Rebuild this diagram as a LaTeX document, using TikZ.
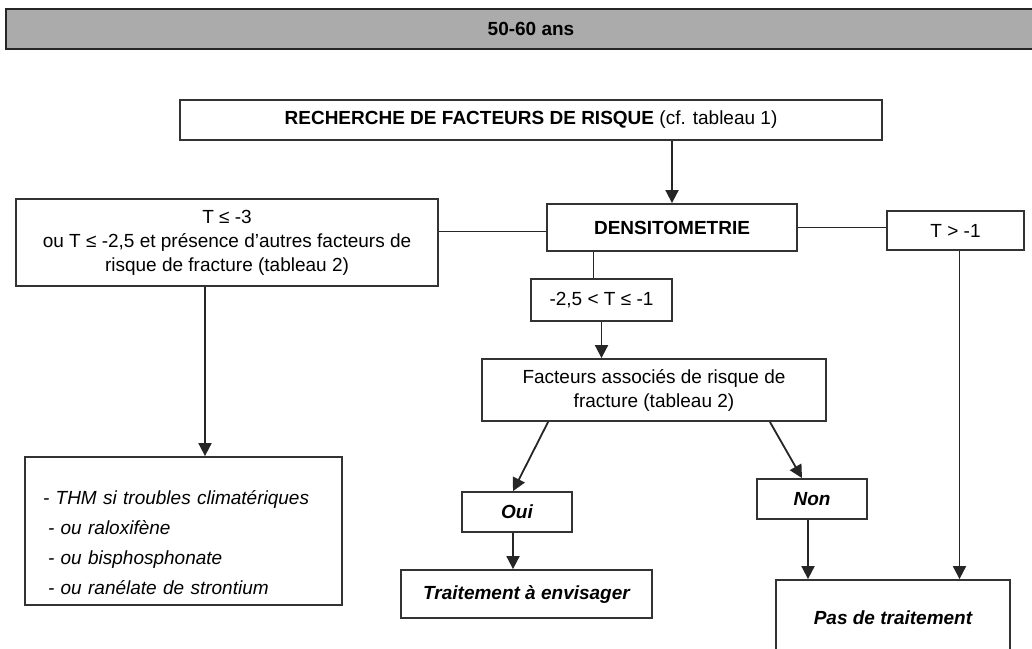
\documentclass[tikz,border=0pt]{standalone}
\usepackage{fontspec}
\setmainfont{Liberation Sans}
\usetikzlibrary{arrows.meta,positioning}
\begin{document}
\begin{tikzpicture}[x=1pt,y=-1pt,
        boite/.style={draw=black!80, line width=1.8pt, fill=white, inner sep=0pt, align=center,
            font=\fontsize{19}{24}\selectfont},
        reponse/.style={boite, font=\fontsize{19}{24}\selectfont\bfseries\itshape},
        fleche/.style={draw=black!85, line width=1.8pt, -{Triangle[width=13pt,length=13pt]}},
        trait/.style={draw=black!85, line width=1.8pt}]
    \useasboundingbox (0,0) rectangle (1032,648);
    \node[boite, fill=black!33, draw=black!85, line width=2.2pt, minimum width=1050, minimum height=40,
        font=\fontsize{19}{23}\selectfont\bfseries] (age) at (531,29) {50-60 ans};
    \node[boite, minimum width=702, minimum height=40] (recherche) at (531,120)
        {\textbf{RECHERCHE DE FACTEURS DE RISQUE} (cf. tableau 1)};
    \node[boite, minimum width=250, minimum height=47, font=\fontsize{19}{23}\selectfont\bfseries] (densito) at (672,227.5) {DENSITOMETRIE};
    \node[boite, minimum width=422, minimum height=87] (gauche) at (227,242.5)
        {T ≤ -3\\ou T ≤ -2,5 et présence d'autres facteurs de\\risque de fracture (tableau 2)};
    \node[boite, minimum width=137, minimum height=39] (tsup) at (955.5,230.5) {T > -1};
    \node[boite, minimum width=141, minimum height=42] (tmid) at (601.5,300) {-2,5 < T ≤ -1};
    \node[boite, minimum width=344, minimum height=62] (facteurs) at (654,390)
        {Facteurs associés de risque de\\fracture (tableau 2)};
    \node[reponse, minimum width=110, minimum height=40] (oui) at (517,512) {Oui};
    \node[reponse, minimum width=110, minimum height=40] (non) at (812,499) {Non};
    \node[reponse, minimum width=251, minimum height=48] (traitement) at (526.5,594) {Traitement à envisager};
    \node[reponse, minimum width=234, minimum height=76] (pas) at (893,618) {Pas de traitement};
    \node[boite, minimum width=317, minimum height=148, text width=281pt, inner xsep=18pt, align=left,
        font=\fontsize{19}{23}\selectfont\itshape] (trt) at (183.5,531)
        {\rule{0pt}{38pt}- THM si troubles climatériques\\[7pt]
         \hspace*{5pt}- ou raloxifène\\[7pt]
         \hspace*{5pt}- ou bisphosphonate\\[7pt]
         \hspace*{5pt}- ou ranélate de strontium};

    \draw[fleche] (recherche.south -| densito.north) -- (densito.north);
    \draw[trait] ([yshift=-4pt]densito.west) -- ([yshift=-4pt]densito.west -| gauche.east);
    \draw[trait] (densito.east) -- (densito.east -| tsup.west);
    \draw[trait] ([xshift=-8pt]tmid.north) -- ([xshift=-8pt]tmid.north |- densito.south);
    \draw[fleche] (tmid.south) -- (tmid.south |- facteurs.north);
    \draw[fleche] ([xshift=67pt]facteurs.south west) -- ([xshift=-4pt]oui.north);
    \draw[fleche] ([xshift=-57pt]facteurs.south east) -- ([xshift=-10pt]non.north);
    \draw[fleche] ([xshift=-4pt]oui.south) -- ([xshift=-4pt]oui.south |- traitement.north);
    \draw[fleche] ([xshift=-4pt]non.south) -- ([xshift=-4pt]non.south |- pas.north);
    \draw[fleche] ([xshift=4pt]tsup.south) -- ([xshift=4pt]tsup.south |- pas.north);
    \draw[fleche] ([xshift=-22pt]gauche.south) -- ([xshift=-22pt]gauche.south |- trt.north);
\end{tikzpicture}
\end{document}
